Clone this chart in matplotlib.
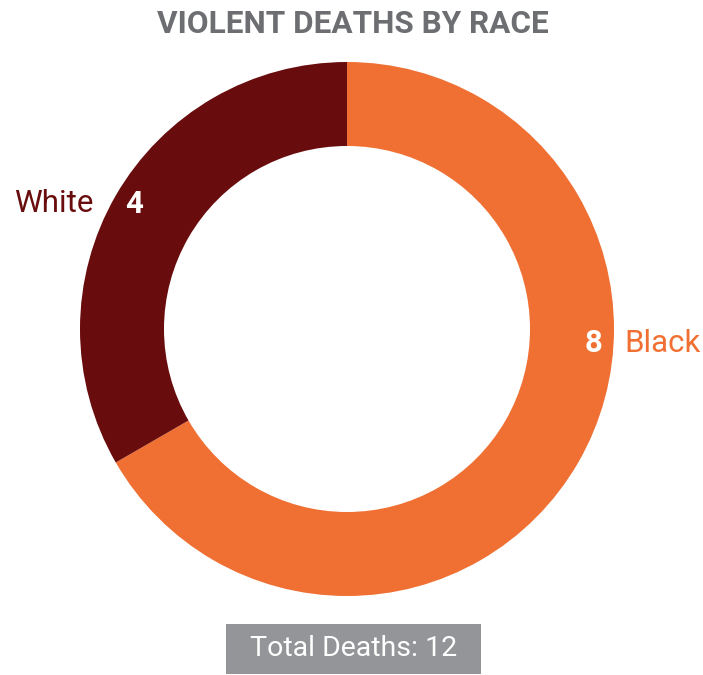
import numpy as np
import matplotlib
matplotlib.use("Agg")
import matplotlib.pyplot as plt
from matplotlib.patches import FancyBboxPatch

# Data
races = ["Black", "White"]
deaths = [8, 4]
colors = ["#F07033", "#690C0D"]
title = "VIOLENT DEATHS BY RACE"

plt.rcParams['font.family'] = ['Roboto', 'DejaVu Sans']

# 703x675 px canvas, axes in pixel units (y up)
fig = plt.figure(figsize=(7.03, 6.75), dpi=100, facecolor="white")
ax = fig.add_axes([0, 0, 1, 1])

cx, cy = 347, 346
r_out, r_in = 267, 183

wedges, _ = ax.pie(deaths, colors=colors, startangle=90, counterclock=False,
                   center=(cx, cy), radius=r_out, frame=True,
                   wedgeprops=dict(width=r_out - r_in, linewidth=0))
ax.set_xlim(0, 703)
ax.set_ylim(0, 675)
ax.set_aspect("equal")
ax.axis("off")

# value labels inside the ring, category labels outside
label_angles = [-3.3, 149.5]
label_r = 247
for name, val, col, ang in zip(races, deaths, colors, label_angles):
    a = np.deg2rad(ang)
    x = cx + label_r * np.cos(a)
    y = cy + label_r * np.sin(a)
    ax.text(x, y, str(val), color="white", fontsize=22.5, fontweight="bold",
            ha="center", va="center")
    if np.cos(a) > 0:
        ax.text(x + 31, y, name, color=col, fontsize=22.5, ha="left", va="center")
    else:
        ax.text(x - 41, y, name, color=col, fontsize=22.5, ha="right", va="center")

# title
fig.text(353 / 703, 651 / 675, title, color="#6D6E71", fontsize=22.7,
         fontweight="bold", ha="center", va="center")

# total box
box = FancyBboxPatch((226, 1), 255, 50, boxstyle="square,pad=0",
                     facecolor="#939598", edgecolor="none")
ax.add_patch(box)
ax.text(354, 26, "Total Deaths: %d" % sum(deaths), color="white", fontsize=20.5,
        ha="center", va="center")

fig.savefig("out.png", dpi=100, facecolor="white")
